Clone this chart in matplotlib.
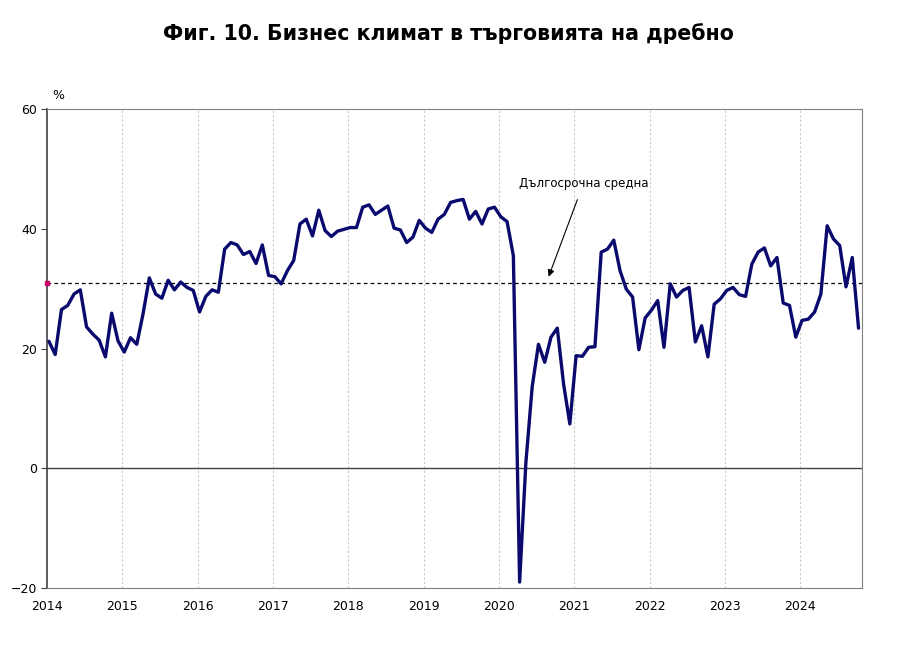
import matplotlib.pyplot as plt
import numpy as np

# monthly values, Jan 2014 - Oct 2024
climate = [
    21.2, 19.0, 26.5, 27.2, 29.1, 29.8, 23.6, 22.4, 21.4, 18.6, 25.9, 21.3,  # 2014
    19.4, 21.8, 20.7, 25.8, 31.8, 29.1, 28.4, 31.4, 29.8, 31.1, 30.2, 29.7,  # 2015
    26.1, 28.7, 29.8, 29.4, 36.6, 37.7, 37.3, 35.7, 36.2, 34.2, 37.3, 32.2,  # 2016
    32.0, 30.8, 33.0, 34.7, 40.8, 41.6, 38.8, 43.1, 39.7, 38.7, 39.6, 39.9,  # 2017
    40.2, 40.2, 43.6, 44.0, 42.4, 43.1, 43.8, 40.1, 39.8, 37.7, 38.6, 41.4,  # 2018
    40.1, 39.4, 41.6, 42.4, 44.4, 44.7, 44.9, 41.6, 42.9, 40.8, 43.3, 43.6,  # 2019
    42.0, 41.2, 35.5, -19.0, 1.0, 13.6, 20.7, 17.7, 21.9, 23.4, 14.1, 7.4,   # 2020
    18.8, 18.7, 20.2, 20.3, 36.1, 36.6, 38.1, 33.0, 29.9, 28.6, 19.8, 25.1,  # 2021
    26.4, 28.0, 20.2, 30.8, 28.6, 29.7, 30.2, 21.1, 23.8, 18.6, 27.4, 28.3,  # 2022
    29.7, 30.2, 29.0, 28.7, 34.1, 36.1, 36.8, 33.8, 35.2, 27.6, 27.2, 21.9,  # 2023
    24.7, 24.9, 26.1, 29.1, 40.5, 38.3, 37.2, 30.3, 35.2, 23.4,              # 2024
]
long_term_avg = 31.0
years = list(range(2014, 2025))
y_ticks = [-20, 0, 20, 40, 60]

x = 2014 + (np.arange(len(climate)) + 0.3) / 12

fig = plt.figure(figsize=(9.15, 6.47), dpi=100)
ax = fig.add_axes([0.0514, 0.0912, 0.8906, 0.7403])

for yr in years[1:]:
    ax.axvline(yr, color="#c8c8c8", lw=0.8, ls=(0, (2, 2)), zorder=0)
ax.axhline(0, color="#404040", lw=1.0, zorder=1)
ax.axhline(long_term_avg, color="black", lw=0.9, ls=(0, (3, 2.5)), zorder=2)
ax.plot([2014], [long_term_avg], marker="s", ms=3, color="#cc0066", clip_on=False, zorder=4)

ax.plot(x, climate, color="#0a0a6e", lw=2.4, solid_joinstyle="round",
        solid_capstyle="round", zorder=3)

ax.annotate("Дългосрочна средна", xy=(2020.66, 32.0), xytext=(2021.12, 47.5),
            ha="center", va="center", fontsize=8.5,
            arrowprops=dict(arrowstyle="-|>", color="black", lw=0.8,
                            mutation_scale=10, shrinkA=5, shrinkB=0))

ax.set_xlim(2014, 2024.82)
ax.set_ylim(-20, 60)
ax.set_yticks(y_ticks)
ax.set_xticks(years)
ax.set_xticklabels([str(y) for y in years])
ax.tick_params(axis="y", length=4, width=0.8, labelsize=9, pad=3, color="#404040")
ax.tick_params(axis="x", length=0, labelsize=9, pad=9)

for side in ["top", "right", "bottom"]:
    ax.spines[side].set_color("#808080")
    ax.spines[side].set_linewidth(0.8)
ax.spines["left"].set_color("#404040")
ax.spines["left"].set_linewidth(1.2)

fig.text(0.057, 0.847, "%", fontsize=9)
fig.suptitle("Фиг. 10. Бизнес климат в търговията на дребно", x=0.49, y=0.965,
             fontsize=14.8, fontweight="bold")

fig.savefig("out.png", dpi=100)
